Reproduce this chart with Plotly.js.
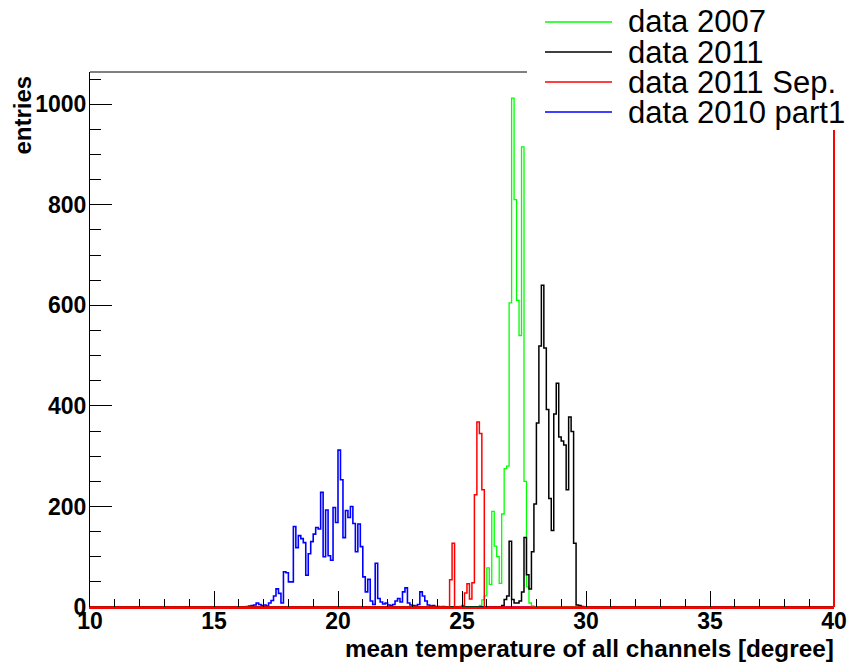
<!DOCTYPE html>
<html><head><meta charset="utf-8">
<script src="https://cdn.plot.ly/plotly-3.0.1.min.js"></script>
<style>html,body{margin:0;padding:0;background:#fff}#chart{width:851px;height:662px}</style>
</head><body><div id="chart"></div>
<script>
// ---- data ----
const binWidth = 0.1;
const xRange = [10, 40];
const yRange = [0, 1064];
const xTickStep = 5;
const yTickStep = 200;
const xTitle = "mean temperature of all channels [degree]";
const yTitle = "entries";
const seriesNames  = ["data 2007", "data 2011", "data 2011 Sep.", "data 2010 part1"];
const seriesColors = ["#00ff00", "#000000", "#ff0000", "#0000ff"];

const green2007Start = 25.7;
const green2007Counts = [3, 14, 22, 78, 45, 190, 121, 100, 47, 185, 275, 280, 605, 1012, 810, 610, 540, 915, 250, 40, 8, 2];

const black2011Start = 26.6;
const black2011Counts = [3, 15, 22, 131, 15, 8, 8, 12, 30, 138, 64, 36, 110, 205, 366, 519, 640, 515, 393, 216, 152, 384, 445, 338, 330, 322, 233, 378, 349, 127, 4, 3, 1];

const red2011SepStart = 24.5;
const red2011SepCounts = [54, 127, 0, 0, 1, 3, 28, 46, 16, 48, 223, 368, 345, 233];

const blue2010Start = 16.3;
const blue2010Counts = [1, 2, 3, 4, 8, 5, 3, 4, 2, 8, 13, 22, 36, 27, 8, 70, 68, 50, 50, 160,
  118, 142, 136, 128, 63, 106, 130, 145, 158, 155, 228, 100, 193, 102, 93, 198, 168, 312, 253, 138,
  192, 178, 200, 166, 110, 165, 120, 60, 30, 55, 12, 5, 87, 17, 10, 6, 8, 4, 3, 5,
  12, 17, 10, 30, 38, 8, 4, 3, 2, 5, 30, 22, 12, 4, 2, 3, 1, 1, 0, 1];

// ---- helpers ----
function stepXY(start, counts) {
  const x = [xRange[0]], y = [0];
  for (let i = 0; i < counts.length; i++) {
    x.push(Math.round((start + i * binWidth) * 1000) / 1000);
    y.push(counts[i]);
  }
  x.push(Math.round((start + counts.length * binWidth) * 1000) / 1000); y.push(0);
  x.push(xRange[1]); y.push(0);
  return {x, y};
}
function histTrace(start, counts, idx, w) {
  const s = stepXY(start, counts);
  return {type: 'scatter', mode: 'lines', x: s.x, y: s.y, name: seriesNames[idx],
    line: {shape: 'hv', color: seriesColors[idx], width: w}, hoverinfo: 'skip'};
}

const traces = [
  histTrace(blue2010Start, blue2010Counts, 3, 1.6),
  histTrace(green2007Start, green2007Counts, 0, 1.3),
  histTrace(black2011Start, black2011Counts, 1, 1.5),
  histTrace(red2011SepStart, red2011SepCounts, 2, 1.5)
];

// layout geometry (pixels)
const L = 90, R = 834, T = 72, B = 607, FW = 851, FH = 662;
const PW = R - L, PH = B - T;
const px = v => (v - L) / PW;
const py = v => (B - v) / PH;

const FONT = 'Liberation Sans, Arial, Helvetica, sans-serif';
const tickFont = {family: FONT, size: 23, weight: 'bold', color: '#000'};

const legendRowsY = [22, 52, 82, 112];
const shapes = [
  {type: 'line', xref: 'paper', yref: 'paper', x0: 1, x1: 1, y0: 0, y1: 1,
   line: {color: '#ff0000', width: 2}, layer: 'above'},
  {type: 'line', xref: 'paper', yref: 'paper', x0: 0, x1: 1, y0: 1, y1: 1,
   line: {color: '#000', width: 1}, layer: 'above'},
  {type: 'rect', xref: 'paper', yref: 'paper', x0: px(527), x1: px(FW + 2), y0: py(130), y1: py(-2),
   fillcolor: '#fff', line: {width: 0}, layer: 'above'}
];
const annotations = [
  {xref: 'paper', yref: 'paper', x: px(22), y: py(74), xanchor: 'center', yanchor: 'top',
   text: yTitle, textangle: -90, showarrow: false, font: {family: FONT, size: 24, weight: 'bold', color: '#000'}},
  {xref: 'paper', yref: 'paper', x: px(836), y: py(648), xanchor: 'right', yanchor: 'middle',
   text: xTitle, showarrow: false, font: {family: FONT, size: 24.3, weight: 'bold', color: '#000'}}
];
seriesNames.forEach((n, i) => {
  shapes.push({type: 'line', xref: 'paper', yref: 'paper', x0: px(545), x1: px(612),
    y0: py(legendRowsY[i]), y1: py(legendRowsY[i]), line: {color: seriesColors[i], width: 1.3}, layer: 'above'});
  annotations.push({xref: 'paper', yref: 'paper', x: px(626), y: py(legendRowsY[i]), xanchor: 'left', yanchor: 'middle',
    text: n, showarrow: false, font: {family: FONT, size: 31, color: '#000'}});
});

const layout = {
  width: FW, height: FH,
  margin: {l: L, r: FW - R, t: T, b: FH - B, pad: 0},
  paper_bgcolor: '#fff', plot_bgcolor: '#fff',
  showlegend: false,
  xaxis: {range: xRange, showline: true, linecolor: '#ff0000', linewidth: 2,
    ticks: 'inside', ticklen: 16, tickwidth: 1, tickcolor: '#000', tick0: xRange[0], dtick: xTickStep,
    tickfont: tickFont, ticklabelstandoff: -8, showgrid: false, zeroline: false,
    minor: {ticks: 'inside', dtick: 1, ticklen: 8, tickwidth: 1, tickcolor: '#000', showgrid: false}},
  yaxis: {range: yRange, showline: true, linecolor: '#000', linewidth: 1,
    ticks: 'inside', ticklen: 22, tickwidth: 1, tickcolor: '#000', tick0: 0, dtick: yTickStep,
    tickfont: tickFont, ticklabelstandoff: -2, showgrid: false, zeroline: false,
    minor: {ticks: 'inside', dtick: 50, ticklen: 11, tickwidth: 1, tickcolor: '#000', showgrid: false}},
  shapes: shapes,
  annotations: annotations
};
Plotly.newPlot('chart', traces, layout, {staticPlot: true, displayModeBar: false});
</script></body></html>
